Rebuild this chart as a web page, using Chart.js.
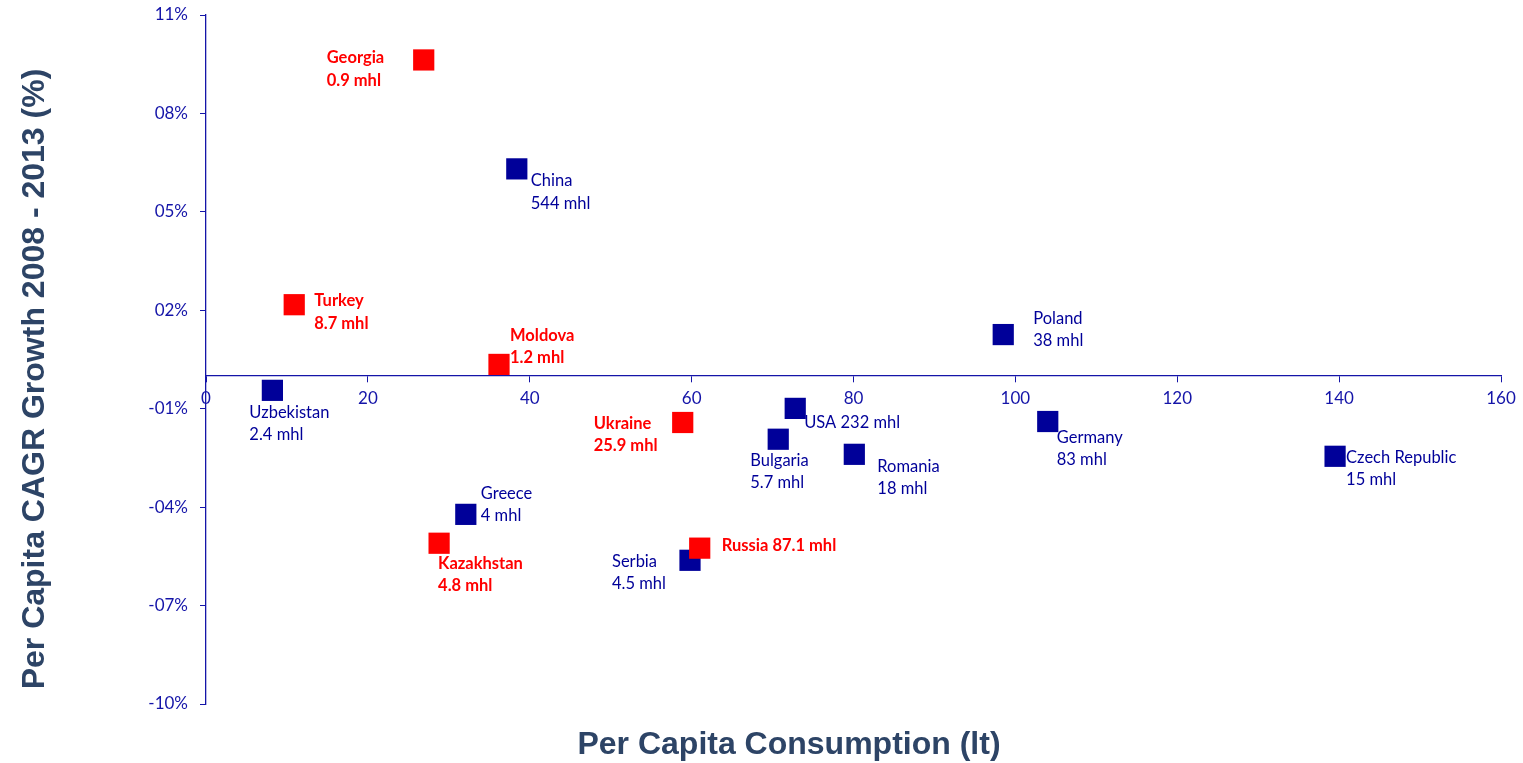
<!DOCTYPE html>
<html>
<head>
<meta charset="utf-8">
<title>Per capita consumption vs CAGR</title>
<script src="https://cdn.jsdelivr.net/npm/chart.js@4.4.1/dist/chart.umd.min.js"></script>
<style>
  html, body { margin: 0; padding: 0; background: #fff; }
  #wrap { width: 1523px; height: 763px; }
</style>
</head>
<body>
<div id="wrap"><canvas id="scatter-chart" width="1523" height="763"></canvas></div>
<script>
// countries, per capita consumption (lt) and per capita CAGR 2008-2013 (%)
const countries = ['Georgia', 'China', 'Turkey', 'Moldova', 'Poland', 'Uzbekistan', 'USA', 'Ukraine',
  'Germany', 'Bulgaria', 'Romania', 'Czech Republic', 'Greece', 'Kazakhstan', 'Russia', 'Serbia'];
const consumption = [26.9, 38.4, 10.9, 36.2, 98.5, 8.2, 72.8, 58.9, 104.0, 70.7, 80.1, 139.5, 32.1, 28.8, 61.0, 59.8];
const growth = [9.63, 6.31, 2.17, 0.35, 1.26, -0.44, -0.99, -1.42, -1.39, -1.93, -2.39, -2.45, -4.22, -5.10, -5.25, -5.62];
const volumes = ['0.9 mhl', '544 mhl', '8.7 mhl', '1.2 mhl', '38 mhl', '2.4 mhl', '232 mhl', '25.9 mhl',
  '83 mhl', '5.7 mhl', '18 mhl', '15 mhl', '4 mhl', '4.8 mhl', '87.1 mhl', '4.5 mhl'];
// red markers: markets in the focus group
const focus = [true, false, true, true, false, false, false, true, false, false, false, false, false, true, true, false];

const yTicks = [-10, -7, -4, -1, 2, 5, 8, 11];
const xTicks = [0, 20, 40, 60, 80, 100, 120, 140, 160];

const xTitle = 'Per Capita Consumption (lt)';
const yTitle = 'Per Capita CAGR Growth 2008 - 2013 (%)';

// where each label sits relative to its marker: [dx, dy of first line, one line?]
const labelPlace = {
  'Georgia': [-97, -2], 'China': [14, 12], 'Turkey': [20, -4], 'Moldova': [11, -29],
  'Poland': [30, -16], 'Uzbekistan': [-23, 22], 'USA': [9, 14, true], 'Ukraine': [-89, 1],
  'Germany': [9, 16], 'Bulgaria': [-28, 21], 'Romania': [23, 12], 'Czech Republic': [11, 1],
  'Greece': [15, -21], 'Kazakhstan': [-1, 20], 'Russia': [22, -2, true], 'Serbia': [-78, 1]
};

const RED = '#ff0000';
const NAVY = '#000099';
const AXIS = '#1414a8';
const TITLE = '#2d4466';

function points(flag) {
  const out = [];
  countries.forEach((c, i) => {
    if (focus[i] === flag) out.push({ x: consumption[i], y: growth[i], name: c, vol: volumes[i] });
  });
  return out;
}

const pointLabels = {
  id: 'pointLabels',
  afterDatasetsDraw(chart) {
    const ctx = chart.ctx;
    ctx.save();
    ctx.textAlign = 'left';
    ctx.textBaseline = 'middle';
    chart.data.datasets.forEach((ds, di) => {
      const meta = chart.getDatasetMeta(di);
      const bold = ds.backgroundColor === RED;
      ctx.fillStyle = ds.backgroundColor;
      ctx.font = (bold ? 'bold ' : '') + '16.5px Lato';
      meta.data.forEach((el, i) => {
        const p = ds.data[i];
        const place = labelPlace[p.name];
        const lines = place[2] ? [p.name + ' ' + p.vol] : [p.name, p.vol];
        lines.forEach((txt, k) => {
          ctx.fillText(txt, el.x + place[0], el.y + place[1] + k * 22.5);
        });
      });
    });
    ctx.restore();
  }
};

// axis titles sit off-centre from the plot, so they are drawn here
const axisTitles = {
  id: 'axisTitles',
  afterDraw(chart) {
    const ctx = chart.ctx;
    const area = chart.chartArea;
    ctx.save();
    ctx.fillStyle = TITLE;
    ctx.font = 'bold 32px "Liberation Sans"';
    ctx.textAlign = 'center';
    ctx.textBaseline = 'middle';
    ctx.fillText(xTitle, area.left + 583, area.bottom + 41);
    ctx.translate(35, area.top + 364);
    ctx.rotate(-Math.PI / 2);
    ctx.fillText(yTitle, 0, 0);
    ctx.restore();
  }
};

const config = {
  type: 'scatter',
  data: {
    datasets: [
      {
        label: 'focus',
        data: points(true),
        backgroundColor: RED,
        borderWidth: 0,
        pointStyle: 'rect',
        pointRadius: 15,
        pointHoverRadius: 15
      },
      {
        label: 'other',
        data: points(false),
        backgroundColor: NAVY,
        borderWidth: 0,
        pointStyle: 'rect',
        pointRadius: 15,
        pointHoverRadius: 15
      }
    ]
  },
  options: {
    responsive: false,
    animation: false,
    layout: { padding: { top: 0, right: 22, bottom: 59, left: 0 } },
    plugins: {
      legend: { display: false },
      tooltip: { enabled: false }
    },
    scales: {
      x: {
        type: 'linear',
        position: { y: 0 },
        min: 0,
        max: 160,
        afterBuildTicks: (s) => { s.ticks = xTicks.map(v => ({ value: v })); },
        ticks: { color: AXIS, font: { family: 'Lato', size: 17 }, padding: 6 },
        grid: { display: true, drawOnChartArea: false, drawTicks: true, tickLength: 6, color: AXIS },
        border: { display: true, color: AXIS, width: 1.3 }
      },
      y: {
        type: 'linear',
        min: -10,
        max: 11,
        afterBuildTicks: (s) => { s.ticks = yTicks.map(v => ({ value: v })); },
        afterFit: (s) => { s.width = 206; },
        ticks: {
          color: AXIS,
          // small lineHeight keeps the top tick label from pushing the plot down
          font: { family: 'Lato', size: 17, lineHeight: 0.2 },
          padding: 12,
          callback: (v) => (v < 0 ? '-' : '') + String(Math.abs(v)).padStart(2, '0') + '%'
        },
        grid: { display: true, drawOnChartArea: false, drawTicks: true, tickLength: 6, color: AXIS },
        border: { display: true, color: AXIS, width: 1.3 }
      }
    }
  },
  plugins: [pointLabels, axisTitles]
};

const ctx = document.getElementById('scatter-chart').getContext('2d');
const scatterChart = new Chart(ctx, config);
</script>
</body>
</html>
